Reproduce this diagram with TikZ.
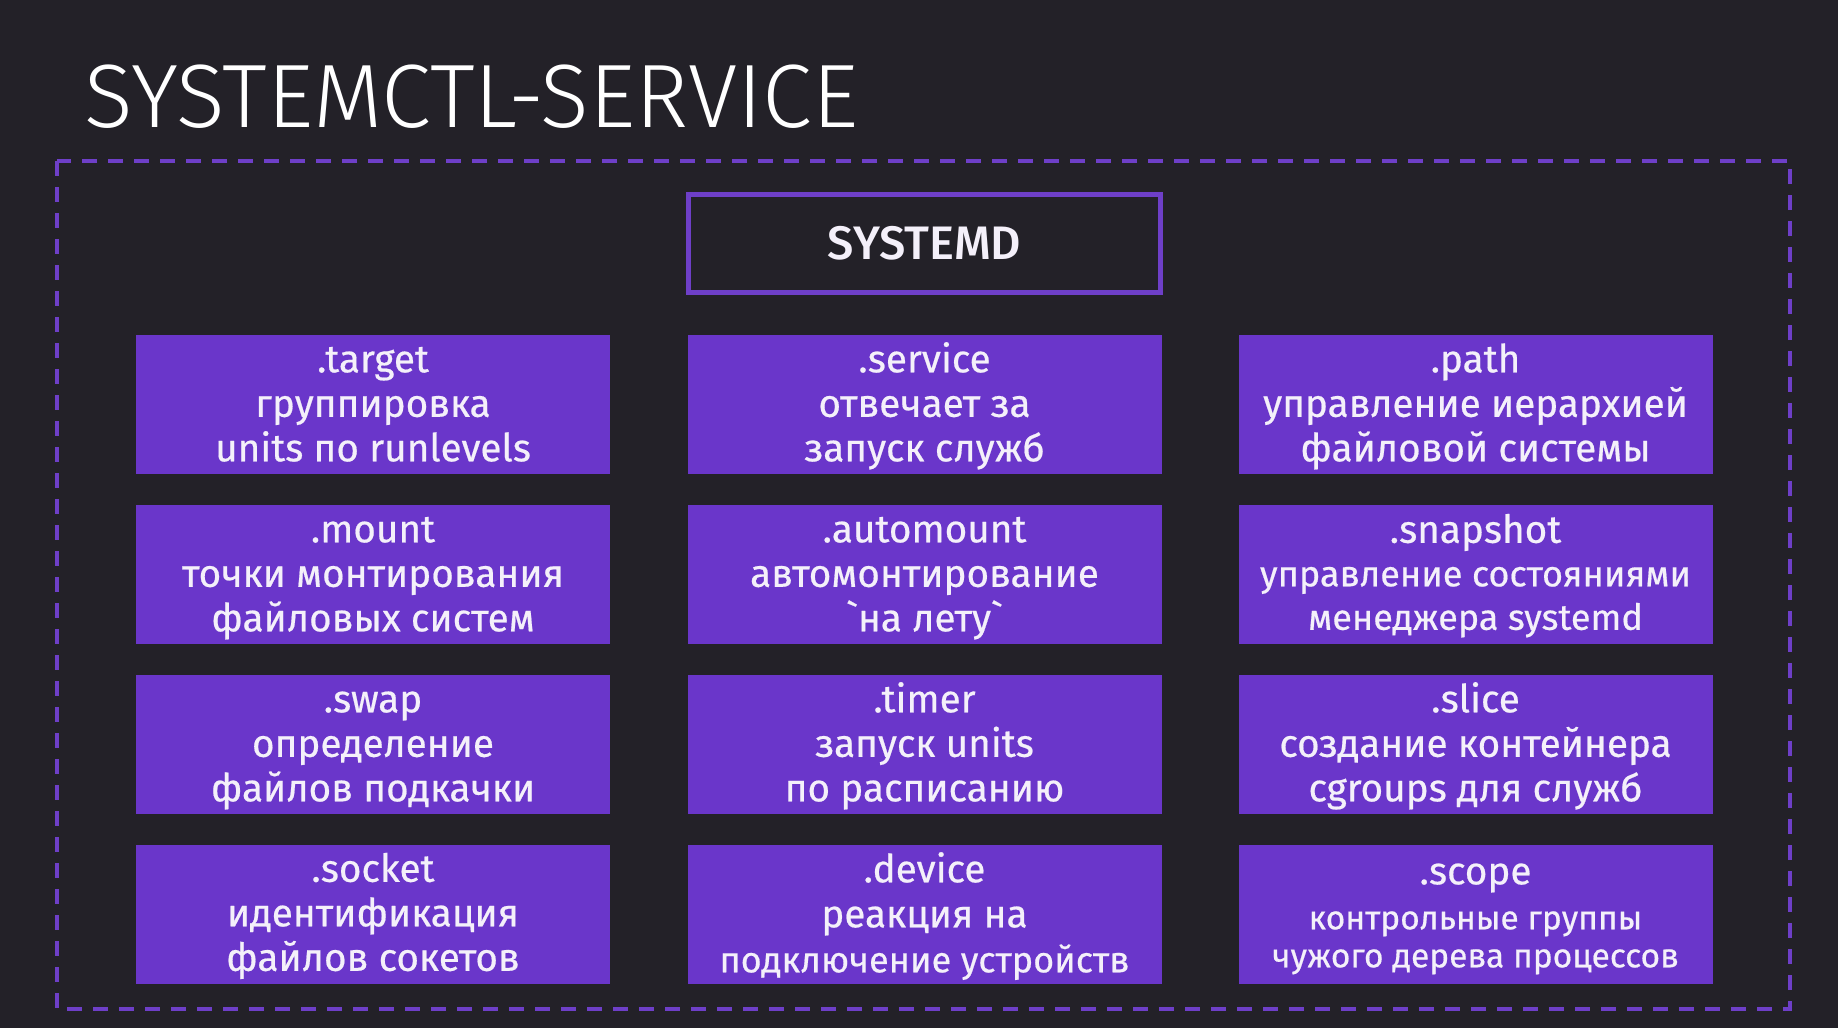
\documentclass[tikz,border=0pt]{standalone}
\usepackage{fontspec}
\setmainfont{Fira Sans}
\newfontfamily\titlefont{Fira Sans Light}
\newfontfamily\bodyfont{Fira Sans}[FakeBold=0.5]
\newfontfamily\corefont{Fira Sans Medium}
\definecolor{bgdark}{HTML}{232128}
\definecolor{unitpurple}{HTML}{6A36CA}
\definecolor{framepurple}{HTML}{6E3FC8}
\definecolor{softwhite}{HTML}{F4F0FA}
% plain grave accent glyph, taken straight from the font
\newcommand{\gravemark}{\XeTeXglyph\XeTeXglyphindex "grave"\relax}
\tikzset{
  unitbox/.style={fill=unitpurple, draw=none, minimum width=474pt, minimum height=139pt,
    inner sep=0pt},
  % anchored on the baseline of the last line
  unittext/.style={anchor=base, inner sep=0pt, align=center, text=softwhite,
    font=\bodyfont\fontsize{38.7}{44.5}\selectfont},
  corebox/.style={draw=framepurple, line width=5pt, minimum width=472pt, minimum height=98pt,
    inner sep=0pt, text=softwhite, font=\corefont\fontsize{47}{52}\selectfont},
  groupframe/.style={draw=framepurple, line width=3.5pt, dash pattern=on 15pt off 11pt}
}
\begin{document}
\begin{tikzpicture}[x=1pt,y=-1pt]
  % canvas
  \fill[bgdark] (0,0) rectangle (1838,1028);
  \useasboundingbox (0,0) rectangle (1838,1028);

  % heading
  \node[anchor=base west, inner sep=0pt, text=white, font=\titlefont\fontsize{90}{100}\selectfont]
    (title) at (84,127) {SYSTEMCTL-SERVICE};

  % dashed group border
  \draw[groupframe] (57,161) rectangle (1790,1009);

  % systemd core box
  \node[corebox] (systemd) at (924.5,243) {SYSTEMD};

  % unit boxes: three columns, four rows
  \node[unitbox] (target)    at (373,404.5)    {};
  \node[unitbox] (mount)     at (373,574.5)    {};
  \node[unitbox] (swap)      at (373,744.5)    {};
  \node[unitbox] (socket)    at (373,914)      {};
  \node[unitbox] (service)   at (924.5,404.5)  {};
  \node[unitbox] (automount) at (924.5,574.5)  {};
  \node[unitbox] (timer)     at (924.5,744.5)  {};
  \node[unitbox] (device)    at (924.5,914)    {};
  \node[unitbox] (path)      at (1475.5,404.5) {};
  \node[unitbox] (snapshot)  at (1475.5,574.5) {};
  \node[unitbox] (slice)     at (1475.5,744.5) {};
  \node[unitbox] (scope)     at (1475.5,914)   {};

  % unit labels
  \node[unittext] (target-t)    at ([yshift=-126.5pt]target.north)    {.target\\группировка\\units по runlevels};
  \node[unittext] (mount-t)     at ([yshift=-126.5pt]mount.north)     {.mount\\точки монтирования\\файловых систем};
  \node[unittext] (swap-t)      at ([yshift=-126.5pt]swap.north)      {.swap\\определение\\файлов подкачки};
  \node[unittext] (socket-t)    at ([yshift=-126.5pt]socket.north)    {.socket\\идентификация\\файлов сокетов};
  \node[unittext] (service-t)   at ([yshift=-126.5pt]service.north)   {.service\\отвечает за\\запуск служб};
  \node[unittext] (automount-t) at ([yshift=-126.5pt]automount.north) {.automount\\автомонтирование\\\gravemark на лету\gravemark};
  \node[unittext] (timer-t)     at ([yshift=-126.5pt]timer.north)     {.timer\\запуск units\\по расписанию};
  \node[unittext, font=\bodyfont\fontsize{38.7}{45}\selectfont] (device-t) at ([yshift=-128pt]device.north)
    {.device\\реакция на\\{\fontsize{36}{45}\selectfont подключение устройств}};
  \node[unittext] (path-t)      at ([yshift=-126.5pt]path.north)      {.path\\управление иерархией\\файловой системы};
  \node[unittext, font=\bodyfont\fontsize{36}{43.5}\selectfont] (snapshot-t) at ([yshift=-125pt]snapshot.north)
    {{\fontsize{38.7}{43.5}\selectfont .snapshot}\\управление состояниями\\менеджера systemd};
  \node[unittext] (slice-t)     at ([yshift=-126.5pt]slice.north)     {.slice\\создание контейнера\\cgroups для служб};
  \node[unittext, font=\bodyfont\fontsize{33.5}{38}\selectfont] (scope-t) at ([yshift=-123pt]scope.north)
    {{\fontsize{38.7}{38}\selectfont .scope}\\[7pt]контрольные группы\\чужого дерева процессов};
\end{tikzpicture}
\end{document}
